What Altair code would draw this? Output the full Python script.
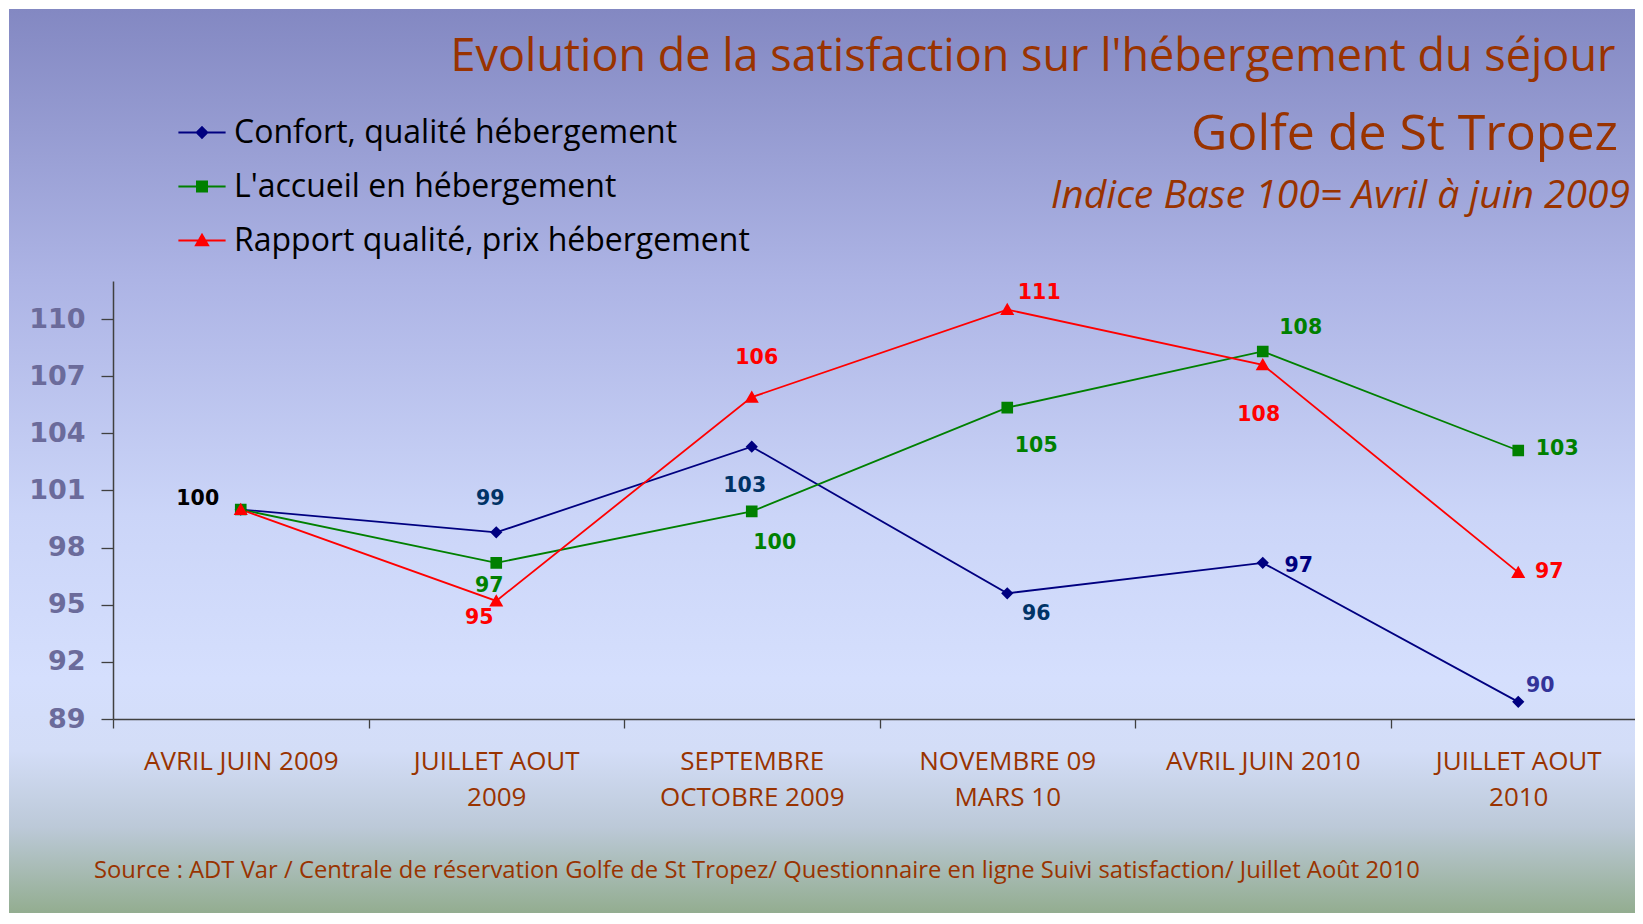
import altair as alt
import pandas as pd

# ---------------- data ----------------
categories = ["AVRIL JUIN 2009", "JUILLET AOUT\n2009", "SEPTEMBRE\nOCTOBRE 2009",
              "NOVEMBRE 09\nMARS 10", "AVRIL JUIN 2010", "JUILLET AOUT\n2010"]
series_names = ["Confort, qualité hébergement", "L'accueil en hébergement",
                "Rapport qualité, prix hébergement"]
series_keys = ["conf", "acc", "rap"]
confort = [100.0, 98.8, 103.3, 95.6, 97.2, 89.9]
accueil = [100.0, 97.2, 99.9, 105.35, 108.3, 103.1]
rapport = [100.0, 95.2, 105.9, 110.5, 107.6, 96.7]
confort_labels = ["100", "99", "103", "96", "97", "90"]
accueil_labels = ["100", "97", "100", "105", "108", "103"]
rapport_labels = ["100", "95", "106", "111", "108", "97"]
y_ticks = [89, 92, 95, 98, 101, 104, 107, 110]

title_line1 = "Evolution de la satisfaction sur l'hébergement du séjour"
title_line2 = "Golfe de St Tropez"
title_line3 = "Indice Base 100= Avril à juin 2009"
source_text = ("Source : ADT Var / Centrale de réservation Golfe de St Tropez/ "
               "Questionnaire en ligne Suivi satisfaction/ Juillet Août 2010")

# ---------------- styles ----------------
series_colors = ["#000080", "#008000", "#FF0000"]
legend_shapes = [
    "M-4.5,0H4.5M0,-1L1,0L0,1L-1,0Z",
    "M-4.5,0H4.5M-0.95,-0.95H0.95V0.95H-0.95Z",
    "M-4.5,0H4.5M0,-1.1L1.15,0.9L-1.15,0.9Z",
]
# (series key, point index, dx, dy, colour)
label_style = [
    ("conf", 0, -43, -11, "#000000"),
    ("conf", 1, -6, -33, "#003366"),
    ("conf", 2, -7, 39, "#003366"),
    ("conf", 3, 29, 21, "#003366"),
    ("conf", 4, 36, 3, "#000080"),
    ("conf", 5, 22, -16, "#333399"),
    ("acc", 1, -7, 23, "#008000"),
    ("acc", 2, 23, 32, "#008000"),
    ("acc", 3, 29, 38, "#008000"),
    ("acc", 4, 38, -23, "#008000"),
    ("acc", 5, 39, -1, "#008000"),
    ("rap", 1, -17, 17, "#FF0000"),
    ("rap", 2, 5, -39, "#FF0000"),
    ("rap", 3, 32, -17, "#FF0000"),
    ("rap", 4, -4, 50, "#FF0000"),
    ("rap", 5, 31, 0, "#FF0000"),
]

BROWN = "#993300"
AXIS_GRAY = "#404040"

rows = []
for name, key, vals, labs in zip(series_names, series_keys,
                                 [confort, accueil, rapport],
                                 [confort_labels, accueil_labels, rapport_labels]):
    for i, (c, v, l) in enumerate(zip(categories, vals, labs)):
        rows.append({"category": c, "series": name, "key": key, "idx": i,
                     "value": v, "label": l})
df = pd.DataFrame(rows)

x_enc = alt.X(
    "category:N", sort=categories,
    scale=alt.Scale(type="band", paddingInner=0, paddingOuter=0, range=[0, 1533]),
    axis=alt.Axis(title=None, tickBand="extent", tickSize=9, tickColor=AXIS_GRAY,
                  tickWidth=1.3, domainColor=AXIS_GRAY, domainWidth=1.5,
                  labelFont="Open Sans", labelFontSize=26, labelColor=BROWN,
                  labelLineHeight=36.6, labelPadding=20, labelAngle=0,
                  labelLimit=400, labelOverlap=False, zindex=1,
                  labelExpr="split(datum.label, '\\n')"),
)
y_enc = alt.Y(
    "value:Q",
    scale=alt.Scale(domain=[89, 112], nice=False, zero=False),
    axis=alt.Axis(title=None, values=y_ticks, tickSize=12, tickColor=AXIS_GRAY,
                  tickWidth=1.3, domainColor=AXIS_GRAY, domainWidth=1.5,
                  labelFont="DejaVu Sans", labelFontWeight="bold", labelFontSize=27,
                  labelColor="#6B6B9B", labelPadding=16, grid=False, zindex=1),
)

base = alt.Chart(df)

bg = alt.Chart(pd.DataFrame({"a": [0]})).mark_rect(
    color=alt.Gradient(
        gradient="linear", x1=0, y1=0, x2=0, y2=1,
        stops=[
            alt.GradientStop(offset=0.0, color="#8388C2"),
            alt.GradientStop(offset=0.30, color="#ADB4E5"),
            alt.GradientStop(offset=0.56, color="#CBD5F8"),
            alt.GradientStop(offset=0.74, color="#D5DFFD"),
            alt.GradientStop(offset=0.82, color="#D3DDF7"),
            alt.GradientStop(offset=0.905, color="#BCC9D8"),
            alt.GradientStop(offset=1.0, color="#93AD90"),
        ],
    )
).encode(x=alt.value(-104), x2=alt.value(1522), y=alt.value(-272), y2=alt.value(632))

line_layers = [
    base.transform_filter(f"datum.key == '{k}'").mark_line(strokeWidth=1.8, color=c)
    .encode(x=x_enc, y=y_enc)
    for k, c in zip(series_keys, series_colors)
]

leg = alt.Legend(title=None, orient="none", legendX=73, legendY=-164.5,
                 direction="vertical", labelFont="Open Sans", labelFontSize=32,
                 labelColor="black", labelLimit=800, labelOffset=16,
                 rowPadding=22, symbolSize=110, symbolStrokeWidth=2, padding=0,
                 zindex=1)

points = base.mark_point(filled=True, opacity=1, size=150).encode(
    x=x_enc, y=y_enc,
    color=alt.Color("series:N", scale=alt.Scale(domain=series_names, range=series_colors), legend=leg),
    stroke=alt.Stroke("series:N", scale=alt.Scale(domain=series_names, range=series_colors), legend=leg),
    shape=alt.Shape("series:N", scale=alt.Scale(domain=series_names, range=legend_shapes), legend=leg),
    strokeWidth=alt.value(0),
)

label_layers = []
for key, i, dx, dy, col in label_style:
    label_layers.append(
        base.transform_filter(f"datum.key == '{key}' && datum.idx == {i}")
        .mark_text(dx=dx, dy=dy, color=col, font="DejaVu Sans", fontWeight="bold",
                   fontSize=20.5, align="center", baseline="middle")
        .encode(x=x_enc, y=y_enc, text="label:N")
    )

one = pd.DataFrame({"t1": [title_line1], "t2": [title_line2],
                    "t3": [title_line3], "src": [source_text]})
tchart = alt.Chart(one)
t1 = tchart.mark_text(font="Open Sans", fontSize=45, color=BROWN, align="left",
                      baseline="alphabetic").encode(
    x=alt.value(337.5), y=alt.value(-210.3), text="t1:N")
t2 = tchart.mark_text(font="Open Sans", fontSize=50, color=BROWN, align="left",
                      baseline="alphabetic").encode(
    x=alt.value(1078), y=alt.value(-131), text="t2:N")
t3 = tchart.mark_text(font="Open Sans", fontSize=39, fontStyle="italic", color=BROWN,
                      align="right", baseline="alphabetic").encode(
    x=alt.value(1517), y=alt.value(-72.7), text="t3:N")
src = tchart.mark_text(font="Open Sans", fontSize=23.8, color=BROWN, align="left",
                       baseline="alphabetic").encode(
    x=alt.value(-19), y=alt.value(597.3), text="src:N")

chart = alt.layer(bg, *line_layers, points, *label_layers, t1, t2, t3, src).properties(
    width=1522, height=438,
    autosize=alt.AutoSizeParams(type="none"),
    padding={"left": 105, "top": 273, "right": 0, "bottom": 194},
).configure_view(stroke=None)

chart.save("out.html", embed_options={"renderer": "svg", "actions": False})
